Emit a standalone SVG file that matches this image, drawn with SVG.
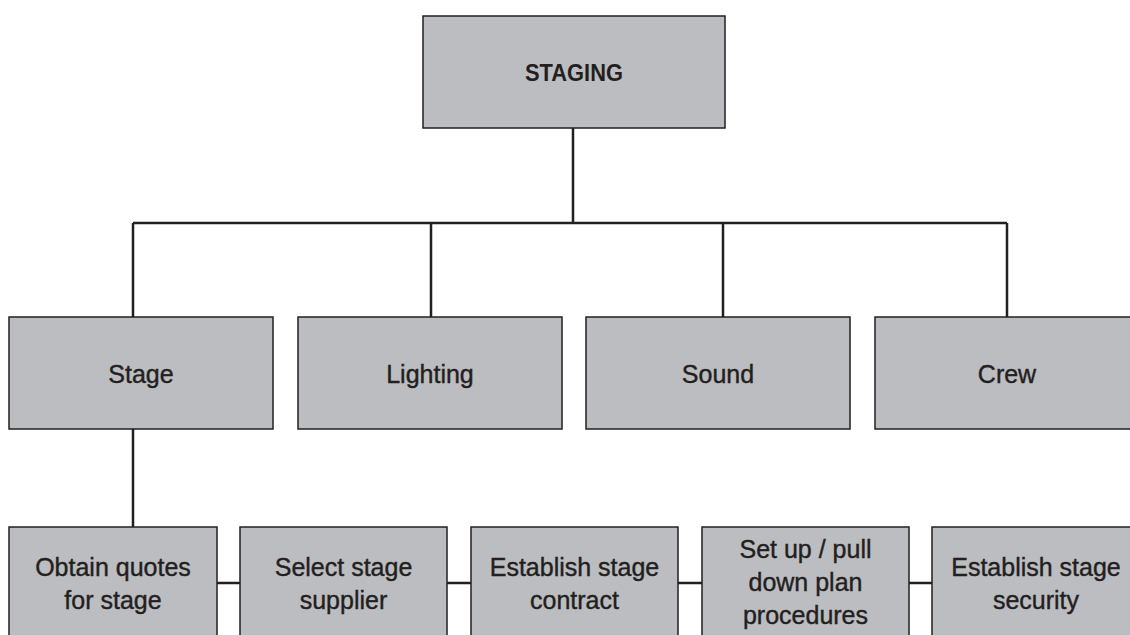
<svg xmlns="http://www.w3.org/2000/svg" width="1130" height="635" viewBox="0 0 1130 635">
<style>
.box{fill:#bcbdc0;stroke:#231f20;stroke-width:1.5}
.lbl{font-family:"Liberation Sans",Arial,sans-serif;font-size:25px;fill:#231f20;stroke:#231f20;stroke-width:0.4;text-anchor:middle}
.title{font-family:"Liberation Sans",Arial,sans-serif;font-size:24px;font-weight:bold;fill:#231f20;text-anchor:middle}
.conn{fill:none;stroke:#231f20;stroke-width:2.5}
</style>
<rect width="1130" height="635" fill="#ffffff"/>
<g id="connectors">
<path class="conn" d="M573 128 V223 M133 223 H1007 M133 223 V317 M431 223 V317 M723 223 V317 M1007 223 V317"/>
<path class="conn" d="M133 429 V527"/>
<path class="conn" d="M217 583 H240 M447 583 H471 M678 583 H702 M909 583 H932"/>
</g>
<g id="staging"><rect class="box" x="423" y="16" width="302" height="112"/><text class="title" x="574" y="81" textLength="98" lengthAdjust="spacingAndGlyphs">STAGING</text></g>
<g id="stage"><rect class="box" x="9" y="317" width="264" height="112"/><text class="lbl" x="141" y="383">Stage</text></g>
<g id="lighting"><rect class="box" x="298" y="317" width="264" height="112"/><text class="lbl" x="430" y="383">Lighting</text></g>
<g id="sound"><rect class="box" x="586" y="317" width="264" height="112"/><text class="lbl" x="718" y="383">Sound</text></g>
<g id="crew"><rect class="box" x="875" y="317" width="264" height="112"/><text class="lbl" x="1007" y="383">Crew</text></g>
<g id="obtain"><rect class="box" x="9" y="527" width="208" height="120"/><text class="lbl" x="113" y="576">Obtain quotes</text><text class="lbl" x="113" y="609">for stage</text></g>
<g id="select"><rect class="box" x="240" y="527" width="207" height="120"/><text class="lbl" x="343.5" y="576">Select stage</text><text class="lbl" x="343.5" y="609">supplier</text></g>
<g id="contract"><rect class="box" x="471" y="527" width="207" height="120"/><text class="lbl" x="574.5" y="576">Establish stage</text><text class="lbl" x="574.5" y="609">contract</text></g>
<g id="setup"><rect class="box" x="702" y="527" width="207" height="120"/><text class="lbl" x="805.5" y="558">Set up / pull</text><text class="lbl" x="805.5" y="591">down plan</text><text class="lbl" x="805.5" y="624">procedures</text></g>
<g id="security"><rect class="box" x="932" y="527" width="208" height="120"/><text class="lbl" x="1036" y="576">Establish stage</text><text class="lbl" x="1036" y="609">security</text></g>
</svg>
